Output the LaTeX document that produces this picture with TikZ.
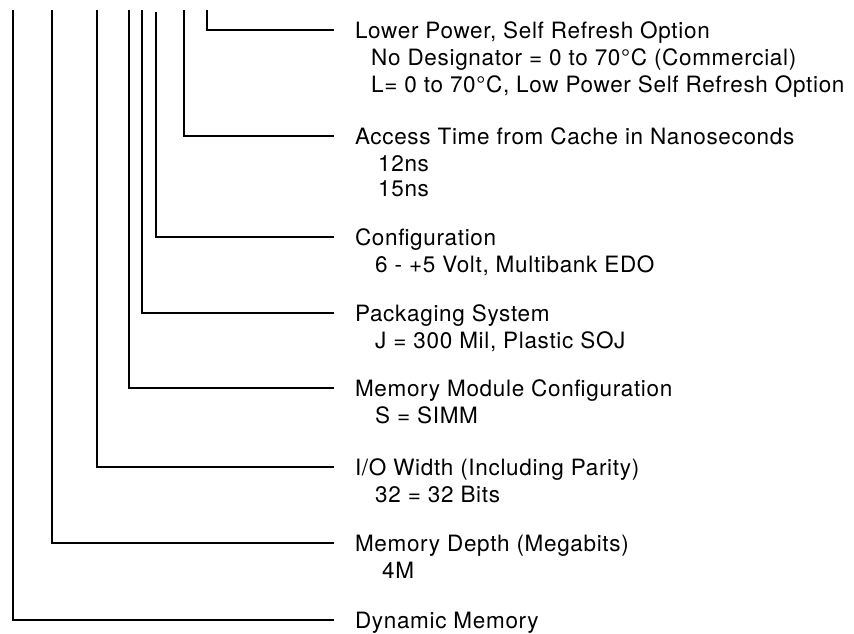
\documentclass[tikz,border=0pt]{standalone}
\usepackage{fontspec}
\setmainfont[LetterSpace=3]{TeX Gyre Heros}
\begin{document}
\begin{tikzpicture}[x=1pt, y=-1pt,
  field/.style={anchor=west, inner xsep=0pt, inner ysep=0pt, outer xsep=21pt, text height=17pt, text depth=0pt, font=\fontsize{22.5}{27}\selectfont},
  choice/.style={anchor=base west, inner sep=0pt, font=\fontsize{22.5}{27}\selectfont},
  lead/.style={-, line width=1.2pt, draw=black}]
\useasboundingbox (0,0) rectangle (854,633);
\coordinate (T1) at (207,10);
\coordinate (T2) at (184,10);
\coordinate (T3) at (156,12);
\coordinate (T4) at (142,10);
\coordinate (T5) at (129,10);
\coordinate (T6) at (97,10);
\coordinate (T7) at (52,10);
\coordinate (T8) at (13,10);
\node[field] (F1) at (334,30) {Lower Power, Self Refresh Option};
\node[field] (F2) at (334,136) {Access Time from Cache in Nanoseconds};
\node[field] (F3) at (334,237) {Configuration};
\node[field] (F4) at (334,313) {Packaging System};
\node[field] (F5) at (334,388) {Memory Module Configuration};
\node[field] (F6) at (334,467) {I/O Width (Including Parity)};
\node[field] (F7) at (334,543) {Memory Depth (Megabits)};
\node[field] (F8) at (334,620) {Dynamic Memory};
\node[choice] (C1a) at (371,65.5) {No Designator = 0 to 70°C (Commercial)};
\node[choice] (C1b) at (371,92) {L= 0 to 70°C, Low Power Self Refresh Option};
\node[choice] (C2a) at (378,171.5) {12ns};
\node[choice] (C2b) at (378,196.5) {15ns};
\node[choice] (C3) at (375,272.5) {6 - +5 Volt, Multibank EDO};
\node[choice] (C4) at (375,348.5) {J = 300 Mil, Plastic SOJ};
\node[choice] (C5) at (375,423.5) {S = SIMM};
\node[choice] (C6) at (375,502.5) {32 = 32 Bits};
\node[choice] (C7) at (382,578.5) {4M};
\draw[lead] (T1) |- (F1.west);
\draw[lead] (T2) |- (F2.west);
\draw[lead] (T3) |- (F3.west);
\draw[lead] (T4) |- (F4.west);
\draw[lead] (T5) |- (F5.west);
\draw[lead] (T6) |- (F6.west);
\draw[lead] (T7) |- (F7.west);
\draw[lead] (T8) |- (F8.west);
\end{tikzpicture}
\end{document}
